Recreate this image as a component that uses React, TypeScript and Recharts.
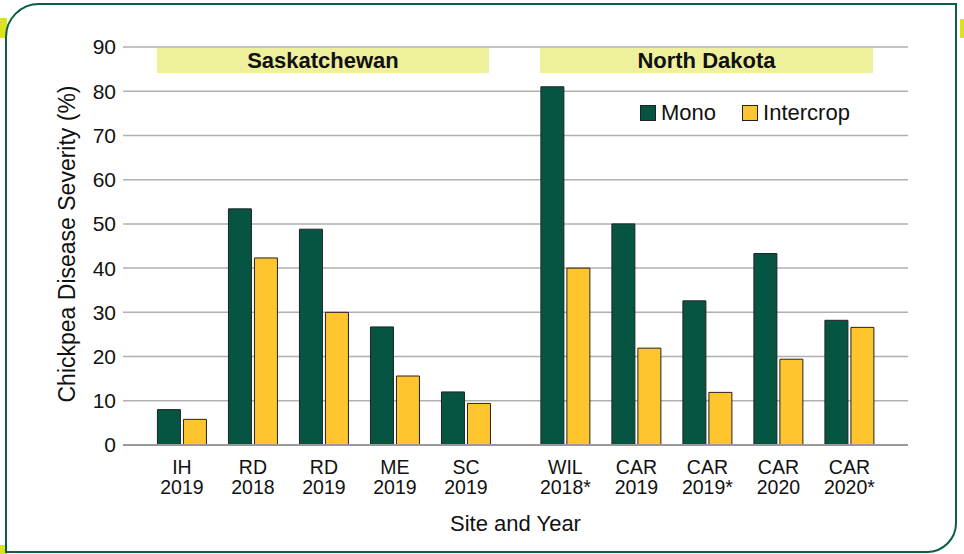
import { BarChart, Bar, XAxis, YAxis, CartesianGrid, Legend, ReferenceArea } from 'recharts';

// site/year labels, two lines each
const sites = ['IH', 'RD', 'RD', 'ME', 'SC', 'WIL', 'CAR', 'CAR', 'CAR', 'CAR'];
const years = ['2019', '2018', '2019', '2019', '2019', '2018*', '2019', '2019*', '2020', '2020*'];
// group positions on the x axis (extra gap between provinces)
const xPos = [0, 1, 2, 3, 4, 5.4, 6.4, 7.4, 8.4, 9.4];
const mono = [8, 53.4, 48.8, 26.7, 12, 81, 50, 32.6, 43.3, 28.2];
const intercrop = [5.8, 42.3, 30, 15.6, 9.4, 40, 21.9, 11.9, 19.4, 26.6];
const yTicks = [0, 10, 20, 30, 40, 50, 60, 70, 80, 90];

const data = xPos.map((x, i) => ({ x, mono: mono[i], intercrop: intercrop[i] }));

const MONO = '#065542';
const INTER = '#FEC52E';
const BANNER = '#EEF09C';
const FRAME = '#0D5C47';
const TAB = '#DDE21F';
const FONT = '"Liberation Sans", Arial, Helvetica, sans-serif';

const XTick = ({ x, y, payload }: any) => {
    const i = xPos.indexOf(payload.value);
    if (i < 0) return null;
    return (
        <g>
            <text x={x} y={y + 21} textAnchor="middle" fill="#111" fontSize={19.5} fontFamily={FONT}>{sites[i]}</text>
            <text x={x} y={y + 41} textAnchor="middle" fill="#111" fontSize={19.5} fontFamily={FONT}>{years[i]}</text>
        </g>
    );
};

const YLabel = ({ viewBox }: any) => {
    const cx = viewBox.x + 67;
    const cy = viewBox.y + viewBox.height / 2 - 2;
    return (
        <text x={cx} y={cy} transform={`rotate(-90 ${cx} ${cy})`} textAnchor="middle" dominantBaseline="central"
            fill="#111" fontSize={23} fontFamily={FONT}>
            Chickpea Disease Severity (%)
        </text>
    );
};

const XLabel = ({ viewBox }: any) => (
    <text x={viewBox.x + viewBox.width / 2} y={viewBox.y + 86} textAnchor="middle" fill="#111" fontSize={22} fontFamily={FONT}>
        Site and Year
    </text>
);

const renderLegend = () => (
    <div style={{ display: 'flex', alignItems: 'center', fontFamily: FONT, fontSize: 22, color: '#111' }}>
        {[['Mono', MONO], ['Intercrop', INTER]].map(([name, color], i) => (
            <div key={name} style={{ display: 'flex', alignItems: 'center', marginRight: i === 0 ? 26 : 0 }}>
                <span style={{ width: 14, height: 14, background: color, border: '1px solid #222', marginRight: 5 }} />
                <span>{name}</span>
            </div>
        ))}
    </div>
);

export default function App() {
    return (
        <div style={{ position: 'absolute', left: 0, top: 0, width: 964, height: 554, background: '#fff', overflow: 'hidden' }}>
            {/* frame tabs */}
            <div style={{ position: 'absolute', left: 0, top: 18, width: 7, height: 20, background: TAB }} />
            <div style={{ position: 'absolute', left: 960, top: 19, width: 4, height: 19, background: TAB }} />
            <div style={{ position: 'absolute', left: 0, top: 545, width: 7, height: 9, background: TAB }} />
            <div style={{
                position: 'absolute', left: 5, top: 3, width: 948, height: 546,
                border: `2.5px solid ${FRAME}`, borderRadius: '34px 0 30px 0', background: '#fff'
            }} />
            <div style={{ position: 'absolute', left: 0, top: 0 }}>
                <BarChart width={964} height={554} data={data} margin={{ top: 47, right: 56, bottom: 19, left: 0 }}
                    barGap={3} barSize={23}>
                    <CartesianGrid vertical={false} stroke="#b0b0b0" strokeWidth={1.5} />
                    <ReferenceArea x1={-0.352} x2={4.324} y1={84.1} y2={89.8} fill={BANNER} fillOpacity={1} stroke="none"
                        label={{ value: 'Saskatchewan', position: 'center', fontSize: 22, fontWeight: 'bold', fill: '#111', fontFamily: FONT }} />
                    <ReferenceArea x1={5.042} x2={9.732} y1={84.1} y2={89.8} fill={BANNER} fillOpacity={1} stroke="none"
                        label={{ value: 'North Dakota', position: 'center', fontSize: 22, fontWeight: 'bold', fill: '#111', fontFamily: FONT }} />
                    <XAxis dataKey="x" type="number" domain={[-0.83, 10.225]} allowDataOverflow ticks={xPos} interval={0}
                        tick={<XTick />} tickLine={false} axisLine={{ stroke: '#999', strokeWidth: 2 }} height={90}
                        label={<XLabel />} />
                    <YAxis domain={[0, 90]} ticks={yTicks} width={123} tickLine={false} axisLine={false}
                        tickSize={5} tickMargin={2} tick={{ fill: '#111', fontSize: 21, fontFamily: FONT }}
                        label={<YLabel />} />
                    <Legend layout="horizontal" verticalAlign="middle" align="center" content={renderLegend}
                        wrapperStyle={{ left: 640, top: 100, width: 'auto' }} />
                    <Bar dataKey="mono" name="Mono" fill={MONO} stroke="#222" strokeWidth={1} isAnimationActive={false} />
                    <Bar dataKey="intercrop" name="Intercrop" fill={INTER} stroke="#222" strokeWidth={1} isAnimationActive={false} />
                </BarChart>
            </div>
        </div>
    );
}
